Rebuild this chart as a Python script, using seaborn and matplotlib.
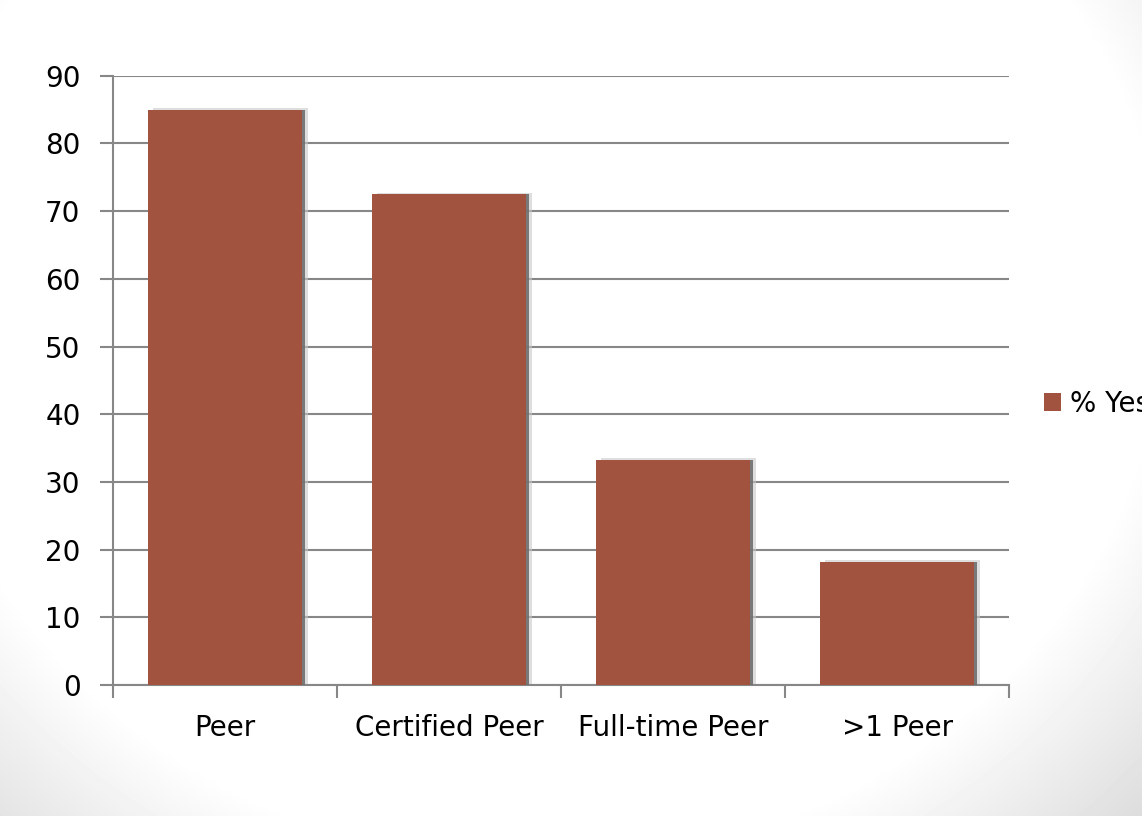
import numpy as np
import pandas as pd
import matplotlib
matplotlib.use("Agg")
import matplotlib.pyplot as plt
import matplotlib.patheffects as pe
from matplotlib.patches import Patch
import seaborn as sns

# Share of programmes answering "yes"
categories = ["Peer", "Certified Peer", "Full-time Peer", ">1 Peer"]
pct_yes = [85, 72.5, 33.3, 18.2]
y_ticks = [0, 10, 20, 30, 40, 50, 60, 70, 80, 90]
series_name = "% Yes"

BAR = "#A1533F"
GRID = "#878787"

sns.set_theme(style="white")
plt.rcParams["font.family"] = ["DejaVu Sans"]

fig = plt.figure(figsize=(11.42, 8.16), dpi=100)

# slide background: white with soft gray corners
bg = fig.add_axes([0, 0, 1, 1], zorder=-10)
h, w = 816, 1142
yy, xx = np.mgrid[0:h, 0:w]
d = np.sqrt(((xx - 540) / 620) ** 2 + ((yy - 300) / 560) ** 2)
shade = 1 - 0.4 * np.clip(d - 1, 0, 1)
bg.imshow(shade, cmap="gray", vmin=0, vmax=1, aspect="auto",
          extent=[0, 1, 0, 1], origin="upper", interpolation="bilinear")
bg.axis("off")

ax = fig.add_axes([0.099, 0.1605, 0.7846, 0.7467])
ax.set_facecolor("none")

df = pd.DataFrame({"category": categories, "value": pct_yes})
sns.barplot(data=df, x="category", y="value", color=BAR, saturation=1,
            width=0.69, ax=ax, zorder=3, edgecolor="none", linewidth=0)

# soft drop shadow to the right of each bar
for bar in ax.patches:
    bar.set_path_effects([
        pe.SimplePatchShadow(offset=(4.0, 1.0), shadow_rgbFace="#c8c8c8", alpha=0.6),
        pe.SimplePatchShadow(offset=(2.2, 0.0), shadow_rgbFace="#6e6e6e", alpha=0.9),
        pe.Normal(),
    ])

ax.set_xlim(-0.5, 3.5)
ax.set_ylim(0, 90)
ax.set_yticks(y_ticks)
ax.set_xlabel("")
ax.set_ylabel("")

ax.set_axisbelow(True)
ax.yaxis.grid(True, color=GRID, linewidth=1.5)
ax.xaxis.grid(False)

# category boundaries carry the tick marks, names sit between them
ax.set_xticks([-0.5, 0.5, 1.5, 2.5, 3.5])
ax.set_xticklabels([])
ax.set_xticks(range(len(categories)), minor=True)
ax.set_xticklabels(categories, minor=True)
ax.tick_params(axis="x", which="major", bottom=True, length=9.4, width=1.5,
               color=GRID, direction="out")
ax.tick_params(axis="x", which="minor", bottom=True, length=0, pad=21,
               labelsize=20, labelcolor="black")
ax.tick_params(axis="y", left=True, length=9.4, width=1.5, color=GRID,
               direction="out", pad=14, labelsize=20, labelcolor="black")

for side in ("top", "right"):
    ax.spines[side].set_visible(False)
for side in ("left", "bottom"):
    ax.spines[side].set_color(GRID)
    ax.spines[side].set_linewidth(1.5)

fig.legend(handles=[Patch(facecolor=BAR, edgecolor="none", label=series_name)],
           loc="center left", bbox_to_anchor=(1044 / 1142, 1 - 404 / 816),
           frameon=False, fontsize=20, handlelength=0.6, handleheight=0.6,
           handletextpad=0.35, borderpad=0, borderaxespad=0,
           labelcolor="black")

fig.savefig("out.png", dpi=100)
